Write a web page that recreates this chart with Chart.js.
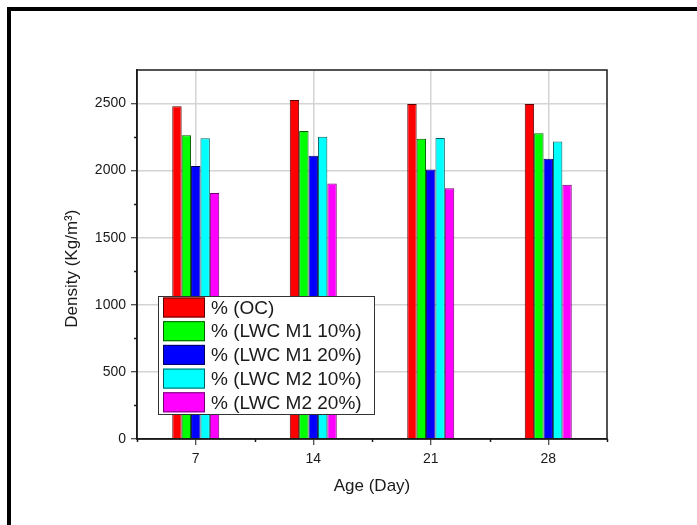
<!doctype html>
<html lang="en">
<head>
    <meta charset="utf-8">
    <title>Density vs Age</title>
    <script src="https://cdn.jsdelivr.net/npm/chart.js"></script>
    <style>
        body { margin: 0; background: #fff; }
    </style>
</head>
<body>
    <canvas id="chartEl" width="697" height="525"></canvas>
    <script>
        const days = ['7', '14', '21', '28'];
        const seriesNames = ['% (OC)', '% (LWC M1 10%)', '% (LWC M1 20%)', '% (LWC M2 10%)', '% (LWC M2 20%)'];
        const ocValues = [2480, 2527, 2497, 2497];
        const m1Ten = [2263, 2295, 2238, 2278];
        const m1Twenty = [2035, 2111, 2009, 2089];
        const m2Ten = [2241, 2253, 2243, 2218];
        const m2Twenty = [1834, 1904, 1869, 1895];
        const yMinorTicks = [250, 750, 1250, 1750, 2250];

        const fills = ['#ff0000', '#00ff00', '#0000ff', '#00ffff', '#ff00ff'];
        const edges = ['#5a0000', '#005a00', '#00005a', '#006060', '#700070'];
        const font = 'Liberation Sans, Arial, sans-serif';
        const ink = '#1a1a1a';

        // thick frame round the page + box round the plot + short minor ticks
        const framePlugin = {
            id: 'frame',
            beforeDraw: (chart) => {
                const ctx = chart.ctx;
                ctx.save();
                ctx.fillStyle = '#000';
                ctx.fillRect(7, 7, 690, 4);
                ctx.fillRect(7, 7, 4, 518);
                ctx.restore();
            },
            afterDatasetsDraw: (chart) => {
                const ctx = chart.ctx;
                const { left, right, top, bottom } = chart.chartArea;
                const x = chart.scales.x;
                const y = chart.scales.y;
                ctx.save();
                ctx.strokeStyle = ink;
                ctx.lineWidth = 1.5;
                ctx.strokeRect(left, top, right - left, bottom - top);
                ctx.beginPath();
                yMinorTicks.forEach((v) => {
                    const py = Math.round(y.getPixelForValue(v)) + 0.5;
                    ctx.moveTo(left, py);
                    ctx.lineTo(left - 3, py);
                });
                for (let i = 0; i <= days.length; i++) {
                    const px = i === 0 ? left : i === days.length ? right
                        : (x.getPixelForValue(i - 1) + x.getPixelForValue(i)) / 2;
                    ctx.moveTo(Math.round(px) + 0.5, bottom);
                    ctx.lineTo(Math.round(px) + 0.5, bottom + 3);
                }
                ctx.stroke();
                ctx.restore();
            },
            afterDraw: (chart) => {
                // legend sits inside the plot
                const ctx = chart.ctx;
                const bx = 158, by = 296, bw = 216, bh = 118;
                ctx.save();
                ctx.fillStyle = '#fff';
                ctx.fillRect(bx, by, bw, bh);
                ctx.strokeStyle = '#333';
                ctx.lineWidth = 1;
                ctx.strokeRect(bx + 0.5, by + 0.5, bw, bh);
                ctx.font = '19px ' + font;
                ctx.textBaseline = 'middle';
                chart.data.datasets.forEach((ds, i) => {
                    const ry = by + 1.5 + i * 23.7;
                    ctx.fillStyle = ds.backgroundColor;
                    ctx.fillRect(163, ry, 42, 20);
                    ctx.strokeStyle = ds.borderColor;
                    ctx.strokeRect(163.5, ry + 0.5, 41, 19);
                    ctx.fillStyle = ink;
                    ctx.fillText(ds.label, 211, ry + 11);
                });
                ctx.restore();
            }
        };

        const allValues = [ocValues, m1Ten, m1Twenty, m2Ten, m2Twenty];
        const data = {
            labels: days,
            datasets: allValues.map((vals, i) => ({
                label: seriesNames[i],
                data: vals,
                backgroundColor: fills[i],
                borderColor: edges[i],
                borderWidth: 1,
                barPercentage: 1,
                categoryPercentage: 0.4,
            })),
        };

        const config = {
            type: 'bar',
            data: data,
            plugins: [framePlugin],
            options: {
                responsive: false,
                animation: false,
                devicePixelRatio: 1,
                layout: { padding: { left: 62, top: 70, right: 90, bottom: 28 } },
                plugins: {
                    legend: { display: false },
                    tooltip: { enabled: false },
                },
                scales: {
                    x: {
                        afterFit: (s) => { s.height = 58; },
                        grid: {
                            offset: false,
                            color: '#d4d4d4',
                            lineWidth: 1.5,
                            tickColor: ink,
                            tickLength: 6,
                            tickWidth: 1,
                        },
                        border: { color: ink, width: 1.5 },
                        ticks: { color: ink, font: { family: font, size: 14 }, padding: 6 },
                        title: {
                            display: true,
                            text: 'Age (Day)',
                            color: ink,
                            font: { family: font, size: 17 },
                            padding: 0,
                        },
                    },
                    y: {
                        min: 0,
                        max: 2750,
                        afterFit: (s) => { s.width = 75; },
                        ticks: {
                            stepSize: 250,
                            color: ink,
                            font: { family: font, size: 14 },
                            padding: 5,
                            callback: (v) => (v % 500 === 0 ? v : ''),
                        },
                        grid: {
                            color: (c) => (c.tick && c.tick.value % 500 === 0 && c.tick.value > 0 ? '#d4d4d4' : 'rgba(0,0,0,0)'),
                            lineWidth: 1.5,
                            tickColor: (c) => (c.tick && c.tick.value % 500 === 0 ? ink : 'rgba(0,0,0,0)'),
                            tickLength: 6,
                            tickWidth: 1,
                        },
                        border: { color: ink, width: 1.5 },
                        title: {
                            display: true,
                            // trailing spaces nudge the label down like the original
                            text: 'Density (Kg/m³)      ',
                            color: ink,
                            font: { family: font, size: 17 },
                            padding: 0,
                        },
                    },
                },
            },
        };

        new Chart(document.getElementById('chartEl'), config);
    </script>
</body>
</html>
